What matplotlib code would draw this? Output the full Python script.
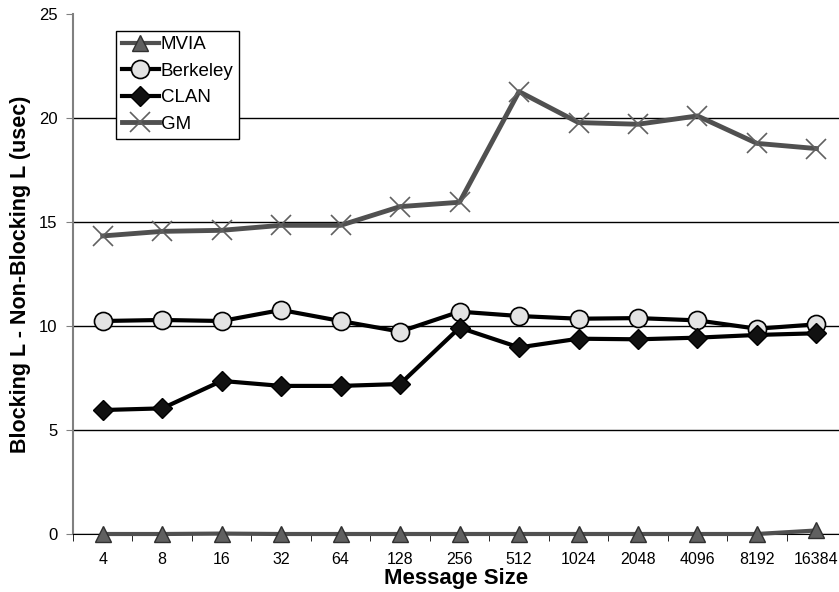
import matplotlib
matplotlib.use("Agg")
import matplotlib.pyplot as plt
from matplotlib.ticker import FixedLocator, NullFormatter

plt.rcParams['font.family'] = ['Liberation Sans', 'DejaVu Sans']

sizes = ['4', '8', '16', '32', '64', '128', '256', '512', '1024', '2048', '4096', '8192', '16384']
mvia = [0.0, 0.0, 0.02, 0.0, 0.0, 0.0, 0.0, 0.0, 0.0, 0.0, 0.0, 0.0, 0.17]
berkeley = [10.24, 10.29, 10.24, 10.77, 10.24, 9.73, 10.69, 10.48, 10.35, 10.38, 10.27, 9.87, 10.08]
clan = [5.96, 6.04, 7.36, 7.12, 7.12, 7.21, 9.92, 8.97, 9.39, 9.36, 9.44, 9.57, 9.65]
gm = [14.33, 14.55, 14.6, 14.84, 14.84, 15.74, 15.95, 21.27, 19.78, 19.7, 20.1, 18.78, 18.53]

fig = plt.figure(figsize=(8.39, 5.92), dpi=100)
ax = fig.add_axes([73/839, 58/592, 766/839, 520/592])

x = range(len(sizes))
ax.plot(x, mvia, color='#505050', lw=3, marker='^', ms=12, mfc='#606060', mec='#303030', mew=1,
        label='MVIA', zorder=5, clip_on=False)
ax.plot(x, berkeley, color='black', lw=3, marker='o', ms=13, mfc='#e3e3e3', mec='black', mew=1.2,
        label='Berkeley', zorder=4)
ax.plot(x, clan, color='black', lw=3, marker='D', ms=10, mfc='#111111', mec='black', label='CLAN', zorder=4)
ax.plot(x, gm, color='#505050', lw=3.5, marker='x', ms=15, mec='#606060', mew=1.2, label='GM', zorder=3)

ax.set_xlim(-0.5, 12.38)
ax.set_ylim(0, 25)
ax.set_yticks([0, 5, 10, 15, 20, 25])
ax.grid(axis='y', color='black', lw=1)
ax.get_ygridlines()[-1].set_visible(False)
ax.set_axisbelow(True)

ax.set_xticks(list(x))
ax.set_xticklabels(sizes)
ax.xaxis.set_minor_locator(FixedLocator([i + 0.5 for i in range(-1, 13)]))
ax.xaxis.set_minor_formatter(NullFormatter())
ax.tick_params(axis='x', which='major', length=0, pad=13, labelsize=11.5)
ax.tick_params(axis='x', which='minor', length=5, direction='out', color='black')
ax.tick_params(axis='y', length=5, labelsize=12, pad=6, color='#808080')

for s in ['top', 'right']:
    ax.spines[s].set_visible(False)
ax.spines['left'].set_color('#808080')
ax.spines['left'].set_linewidth(1.5)
ax.spines['bottom'].set_color('black')

ax.set_xlabel('Message Size', fontsize=16, fontweight='bold', labelpad=1)
ax.set_ylabel('Blocking L - Non-Blocking L (usec)', fontsize=15.5, fontweight='bold', labelpad=6)

leg = ax.legend(loc='upper left', bbox_to_anchor=(0.056, 0.968), fontsize=13.5, frameon=True,
                fancybox=False, edgecolor='black', framealpha=1, handlelength=2.0,
                handletextpad=0.1, borderpad=0.3, labelspacing=0.5, borderaxespad=0)
leg.get_frame().set_linewidth(1)

fig.savefig('out.png', dpi=100)
